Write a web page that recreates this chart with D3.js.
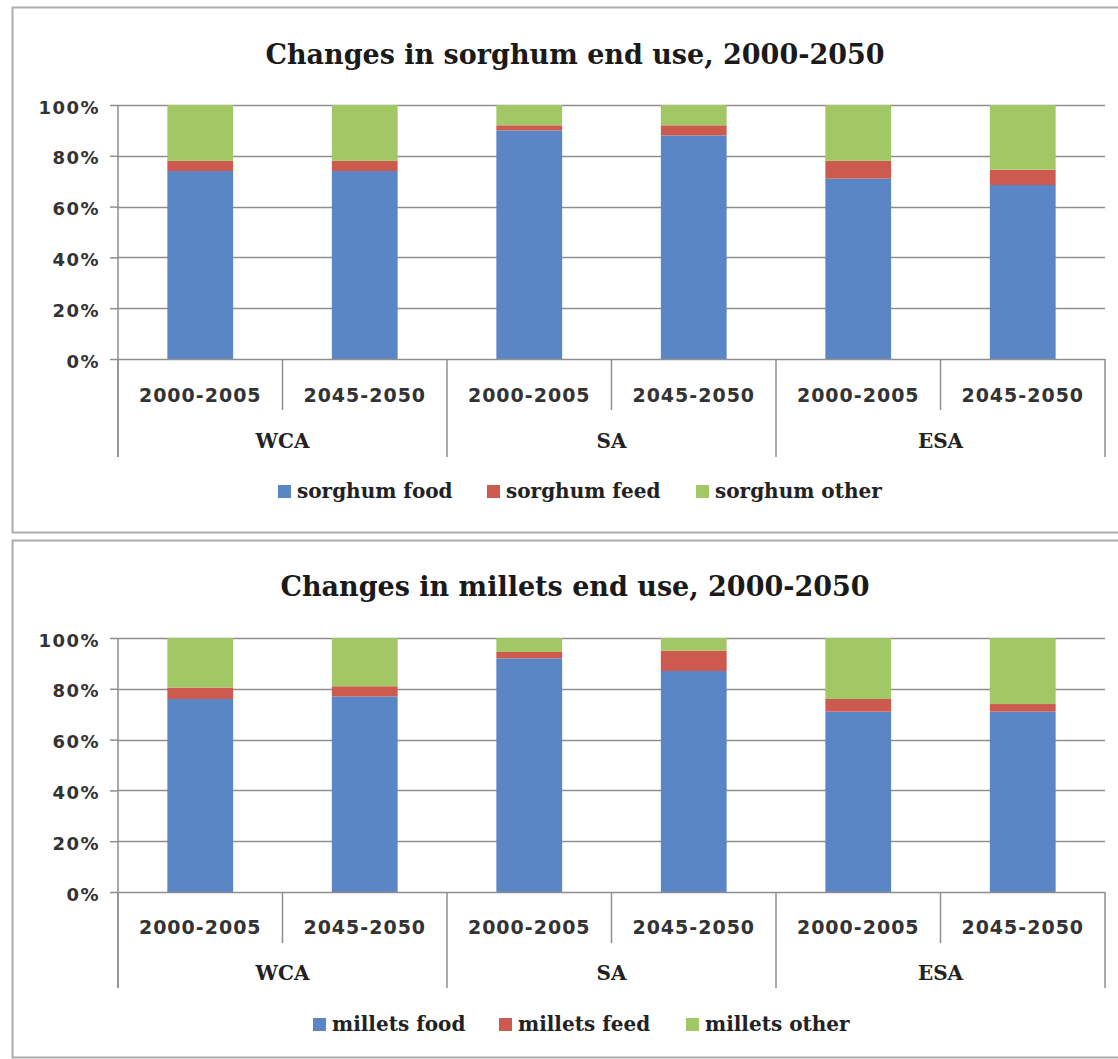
<!DOCTYPE html>
<html lang="en">
<head>
    <meta charset="UTF-8">
    <title>Changes in sorghum and millets end use, 2000-2050</title>
    <script src="https://d3js.org/d3.v7.min.js"></script>
    <style>
        body {
            margin: 0;
            padding: 0;
            background: #ffffff;
        }
        svg {
            display: block;
        }
        .title {
            font-family: "DejaVu Serif", serif;
            font-weight: bold;
            font-size: 27px;
            fill: #1a1a1a;
            text-anchor: middle;
        }
        .ytick text {
            font-family: "DejaVu Sans", sans-serif;
            font-weight: bold;
            font-size: 18px;
            letter-spacing: 1.5px;
            fill: #333;
        }
        .cat {
            font-family: "DejaVu Sans", sans-serif;
            font-weight: bold;
            font-size: 19px;
            fill: #333;
            text-anchor: middle;
            letter-spacing: 1px;
        }
        .region, .legend {
            font-family: "DejaVu Serif", serif;
            font-weight: bold;
            font-size: 20px;
            fill: #222;
        }
        .region {
            text-anchor: middle;
        }
    </style>
</head>
<body>
    <svg id="chart" width="1118" height="1059"></svg>

    <script>
        // categories
        const regions = ["WCA", "SA", "ESA"];
        const periods = ["2000-2005", "2045-2050"];
        const yTicks = [0, 20, 40, 60, 80, 100];

        // sorghum shares (%)
        const sorghumFood  = [74, 74, 90, 88, 71, 68.5];
        const sorghumFeed  = [4, 4, 2, 4, 7, 6];
        const sorghumOther = [22, 22, 8, 8, 22, 25.5];

        // millets shares (%)
        const milletsFood  = [76, 77, 92, 87, 71, 71];
        const milletsFeed  = [4.5, 4, 2.5, 8, 5, 3];
        const milletsOther = [19.5, 19, 5.5, 5, 24, 26];

        const colors = ["#5b86c6", "#cd5a4f", "#a2c865"];

        const svg = d3.select("#chart");

        // category keys: region|period
        const keys = [];
        regions.forEach(r => periods.forEach(p => keys.push(r + "|" + p)));

        const x = d3.scaleBand()
            .domain(keys)
            .range([118, 1105])
            .paddingInner(0.6)
            .paddingOuter(0.3);
        const step = x.step();

        function drawPanel(cfg) {
            const g = svg.append("g");

            // panel frame
            g.append("rect")
                .attr("x", 12.5)
                .attr("y", cfg.top + 0.5)
                .attr("width", 1130)
                .attr("height", cfg.bottom - cfg.top)
                .attr("fill", "none")
                .attr("stroke", "#acacac")
                .attr("stroke-width", 2);

            g.append("text")
                .attr("class", "title")
                .attr("x", 575)
                .attr("y", cfg.titleY)
                .text(cfg.title);

            const y = d3.scaleLinear()
                .domain([0, 100])
                .range([cfg.y0, cfg.y100]);

            // gridlines
            g.append("g")
                .selectAll("line")
                .data(yTicks.filter(d => d > 0))
                .join("line")
                .attr("x1", x.range()[0])
                .attr("x2", x.range()[1])
                .attr("y1", d => Math.round(y(d)) + 0.5)
                .attr("y2", d => Math.round(y(d)) + 0.5)
                .attr("stroke", "#8e8e8e")
                .attr("stroke-width", 1.5);

            // y axis
            const yAxis = g.append("g")
                .attr("class", "ytick")
                .attr("transform", `translate(${x.range()[0]},0)`)
                .call(d3.axisLeft(y).tickValues(yTicks).tickFormat(d => d + "%").tickSize(8).tickPadding(10));
            yAxis.select(".domain").remove();
            yAxis.selectAll("line").attr("stroke", "#8e8e8e").attr("stroke-width", 1.5);
            yAxis.selectAll("text").attr("dy", "0.45em");

            g.append("line")
                .attr("x1", x.range()[0]).attr("x2", x.range()[0])
                .attr("y1", cfg.y100).attr("y2", cfg.regionBottom)
                .attr("stroke", "#8e8e8e").attr("stroke-width", 1.5);

            // stacked bars
            const rows = keys.map((k, i) => ({
                key: k,
                food: cfg.food[i],
                feed: cfg.feed[i],
                other: cfg.other[i]
            }));
            const series = d3.stack().keys(["food", "feed", "other"])(rows);

            g.append("g")
                .selectAll("g")
                .data(series)
                .join("g")
                .attr("fill", (d, i) => colors[i])
                .selectAll("rect")
                .data(d => d)
                .join("rect")
                .attr("x", d => x(d.data.key))
                .attr("y", d => y(d[1]))
                .attr("width", x.bandwidth())
                .attr("height", d => y(d[0]) - y(d[1]));

            // category axis line
            g.append("line")
                .attr("x1", x.range()[0]).attr("x2", x.range()[1])
                .attr("y1", cfg.y0 + 0.5).attr("y2", cfg.y0 + 0.5)
                .attr("stroke", "#8e8e8e").attr("stroke-width", 1.5);

            // dividers between periods and regions
            const bounds = d3.range(keys.length + 1);
            g.append("g")
                .selectAll("line")
                .data(bounds)
                .join("line")
                .attr("x1", i => x.range()[0] + i * step)
                .attr("x2", i => x.range()[0] + i * step)
                .attr("y1", cfg.y0)
                .attr("y2", i => i % periods.length === 0 ? cfg.regionBottom : cfg.periodBottom)
                .attr("stroke", "#8e8e8e")
                .attr("stroke-width", 1.5);

            // period labels
            g.append("g")
                .selectAll("text")
                .data(keys)
                .join("text")
                .attr("class", "cat")
                .attr("x", k => x(k) + x.bandwidth() / 2)
                .attr("y", cfg.catY)
                .text(k => k.split("|")[1]);

            // region labels
            g.append("g")
                .selectAll("text")
                .data(regions)
                .join("text")
                .attr("class", "region")
                .attr("x", (r, i) => x.range()[0] + (i + 0.5) * step * periods.length)
                .attr("y", cfg.regionY)
                .text(r => r);

            // legend
            const leg = g.append("g")
                .selectAll("g")
                .data(cfg.legend)
                .join("g")
                .attr("transform", (d, i) => `translate(${cfg.legendX[i]},${cfg.legendY})`);
            leg.append("rect")
                .attr("x", 0).attr("y", -13)
                .attr("width", 13).attr("height", 13)
                .attr("fill", (d, i) => colors[i]);
            leg.append("text")
                .attr("class", "legend")
                .attr("x", 19)
                .attr("y", 0)
                .text(d => d);
        }

        drawPanel({
            top: 7, bottom: 532,
            title: "Changes in sorghum end use, 2000-2050",
            titleY: 64,
            y100: 105, y0: 359,
            periodBottom: 410, regionBottom: 457,
            catY: 402, regionY: 448,
            food: sorghumFood, feed: sorghumFeed, other: sorghumOther,
            legend: ["sorghum food", "sorghum feed", "sorghum other"],
            legendX: [278, 487, 696], legendY: 498
        });

        drawPanel({
            top: 540, bottom: 1057,
            title: "Changes in millets end use, 2000-2050",
            titleY: 596,
            y100: 638, y0: 892,
            periodBottom: 943, regionBottom: 988,
            catY: 934, regionY: 980,
            food: milletsFood, feed: milletsFeed, other: milletsOther,
            legend: ["millets food", "millets feed", "millets other"],
            legendX: [313, 499, 686], legendY: 1031
        });
    </script>
</body>
</html>
